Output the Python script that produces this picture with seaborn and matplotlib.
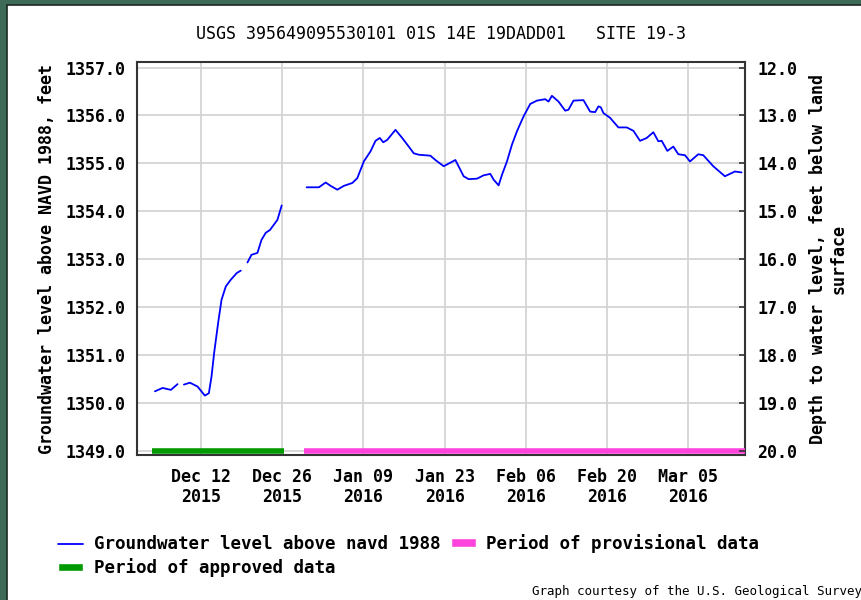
import matplotlib
matplotlib.use('Agg')
import matplotlib.pyplot as plt
from matplotlib.lines import Line2D
from matplotlib.patches import Patch, Rectangle
import pandas as pd
import seaborn as sns

# groundwater level readings
# days since 2015-12-01, level in feet above NAVD 1988, segment id for data gaps
days = [3.09, 4.41, 5.84, 6.99,
        8.08, 9.11, 10.43, 11.69, 12.38, 12.84, 13.29, 13.98, 14.56, 15.30, 16.16, 17.19, 17.88,
        19.03, 19.72, 20.75, 21.44, 22.18, 22.92, 24.19, 24.93,
        29.23, 31.34, 32.50, 33.36, 34.51, 35.64, 37.09, 37.95, 39.08, 40.23, 41.09, 41.83,
        42.42, 43.11, 44.53, 45.69, 46.82, 47.68, 48.54, 50.55, 51.41, 52.84, 54.85, 56.28,
        57.14, 58.58, 59.72, 60.87, 61.44, 62.30, 62.88, 63.74, 64.60, 65.46, 66.60, 67.75,
        68.90, 70.33, 70.90, 71.48, 72.62, 73.77, 74.34, 75.20, 76.92, 78.07, 78.93, 79.50,
        79.91, 80.36, 81.51, 82.94, 84.38, 85.52, 86.67, 87.82, 88.96, 89.82, 90.40, 91.37,
        92.40, 93.26, 94.41, 95.27, 96.70, 97.56, 99.28, 101.29, 103.01, 104.16]
levels = [1350.24, 1350.31, 1350.27, 1350.39,
          1350.38, 1350.42, 1350.34, 1350.15, 1350.20, 1350.55, 1351.04, 1351.67, 1352.15,
          1352.43, 1352.57, 1352.71, 1352.76,
          1352.93, 1353.09, 1353.13, 1353.40, 1353.55, 1353.61, 1353.82, 1354.12,
          1354.50, 1354.50, 1354.60, 1354.53, 1354.45, 1354.53, 1354.59, 1354.69, 1355.04,
          1355.25, 1355.47, 1355.53, 1355.44, 1355.49, 1355.70, 1355.53, 1355.35, 1355.21,
          1355.18, 1355.16, 1355.07, 1354.94, 1355.07, 1354.73, 1354.67, 1354.68, 1354.75,
          1354.78, 1354.66, 1354.54, 1354.76, 1355.04, 1355.39, 1355.67, 1355.98, 1356.24,
          1356.31, 1356.34, 1356.29, 1356.41, 1356.29, 1356.10, 1356.12, 1356.31, 1356.32,
          1356.08, 1356.07, 1356.19, 1356.17, 1356.05, 1355.95, 1355.75, 1355.75, 1355.68,
          1355.47, 1355.53, 1355.65, 1355.46, 1355.47, 1355.26, 1355.35, 1355.19, 1355.17,
          1355.04, 1355.19, 1355.17, 1354.94, 1354.73, 1354.83, 1354.81]
segment = [1] * 4 + [2] * 13 + [3] * 8 + [4] * 70

land_surface = 1369.0
approved_period = ['2015-12-03 12:00', '2015-12-26 08:00']
provisional_period = ['2015-12-29 17:00', '2016-03-15 00:00']
title = 'USGS 395649095530101 01S 14E 19DADD01   SITE 19-3'

start = pd.Timestamp('2015-12-01')
df = pd.DataFrame({'date': start + pd.to_timedelta(days, unit='D'),
                   'level': levels, 'segment': segment})

sns.set_style('white')
plt.rcParams['font.family'] = ['DejaVu Sans Mono']
plt.rcParams['font.weight'] = 'bold'
plt.rcParams['axes.labelweight'] = 'bold'
plt.rcParams['font.size'] = 12
for key in ['text.color', 'axes.labelcolor', 'xtick.color', 'ytick.color']:
    plt.rcParams[key] = 'black'

fig = plt.figure(figsize=(8.62, 6.0), dpi=100)
fig.patch.set_facecolor('#3e6b58')
fig.patches.append(Rectangle((7 / 862, -0.01), 1.0, 1 - 5 / 600 + 0.01, transform=fig.transFigure,
                             facecolor='white', edgecolor='#1a2a22', linewidth=1.2, zorder=-10))

ax = fig.add_axes([137 / 862, 1 - 455 / 600, 608 / 862, 392.7 / 600])
ax.set_facecolor('white')

sns.lineplot(data=df, x='date', y='level', units='segment', estimator=None,
             color='#0000ff', linewidth=1.3, ax=ax, zorder=3)

ax.plot(pd.to_datetime(approved_period), [1349, 1349], color='#009a00', linewidth=4,
        solid_capstyle='butt', zorder=4)
ax.plot(pd.to_datetime(provisional_period), [1349, 1349], color='#ff44dd', linewidth=4,
        solid_capstyle='butt', zorder=4)

ax.set_xlim(pd.Timestamp('2015-12-01'), pd.Timestamp('2016-03-14 18:00'))
ax.set_ylim(1348.91, 1357.11)
ax.set_yticks(range(1349, 1358))
ax.yaxis.set_major_formatter(matplotlib.ticker.FormatStrFormatter('%.1f'))
ticks = pd.date_range('2015-12-12', '2016-03-05', freq='14D')
ax.set_xticks(ticks)
ax.set_xticklabels([t.strftime('%b %d\n%Y') for t in ticks])
ax.grid(True, color='#d4d4d4', linewidth=1.3)
ax.set_axisbelow(True)
ax.tick_params(axis='both', length=0, pad=8, labelsize=12)
ax.tick_params(axis='x', pad=9)
for s in ax.spines.values():
    s.set_color('#333333')
    s.set_linewidth(1.5)
ax.set_xlabel('')
ax.set_ylabel('Groundwater level above NAVD 1988, feet', fontsize=12, fontweight='bold',
              labelpad=7)

ax2 = ax.twinx()
lo, hi = ax.get_ylim()
ax2.set_ylim(land_surface - lo, land_surface - hi)
ax2.set_yticks(range(12, 21))
ax2.yaxis.set_major_formatter(matplotlib.ticker.FormatStrFormatter('%.1f'))
ax2.tick_params(axis='y', direction='in', length=4, width=1.2, color='#333333', pad=9, labelsize=12)
ax2.set_ylabel('Depth to water level, feet below land\nsurface', fontsize=12, fontweight='bold',
               labelpad=8)
for s in ax2.spines.values():
    s.set_visible(False)

ax.set_title(title, fontsize=12, fontweight='normal', pad=17)

handles = [Line2D([0], [0], color='#0000ff', linewidth=1.3),
           Patch(facecolor='#009a00'),
           Patch(facecolor='#ff44dd')]
labels = ['Groundwater level above navd 1988', 'Period of approved data',
          'Period of provisional data']
fig.legend(handles, labels, loc='upper left', bbox_to_anchor=(42 / 862, 1 - 518 / 600),
           ncol=2, frameon=False, fontsize=12.6, handlelength=1.45, handleheight=0.35,
           handletextpad=0.6, columnspacing=0.6, labelspacing=0.3)

fig.text(1.0, 0.004, 'Graph courtesy of the U.S. Geological Survey', ha='right', va='bottom',
         fontsize=9, fontweight='normal')

fig.savefig('out.png', dpi=100, facecolor=fig.get_facecolor())
